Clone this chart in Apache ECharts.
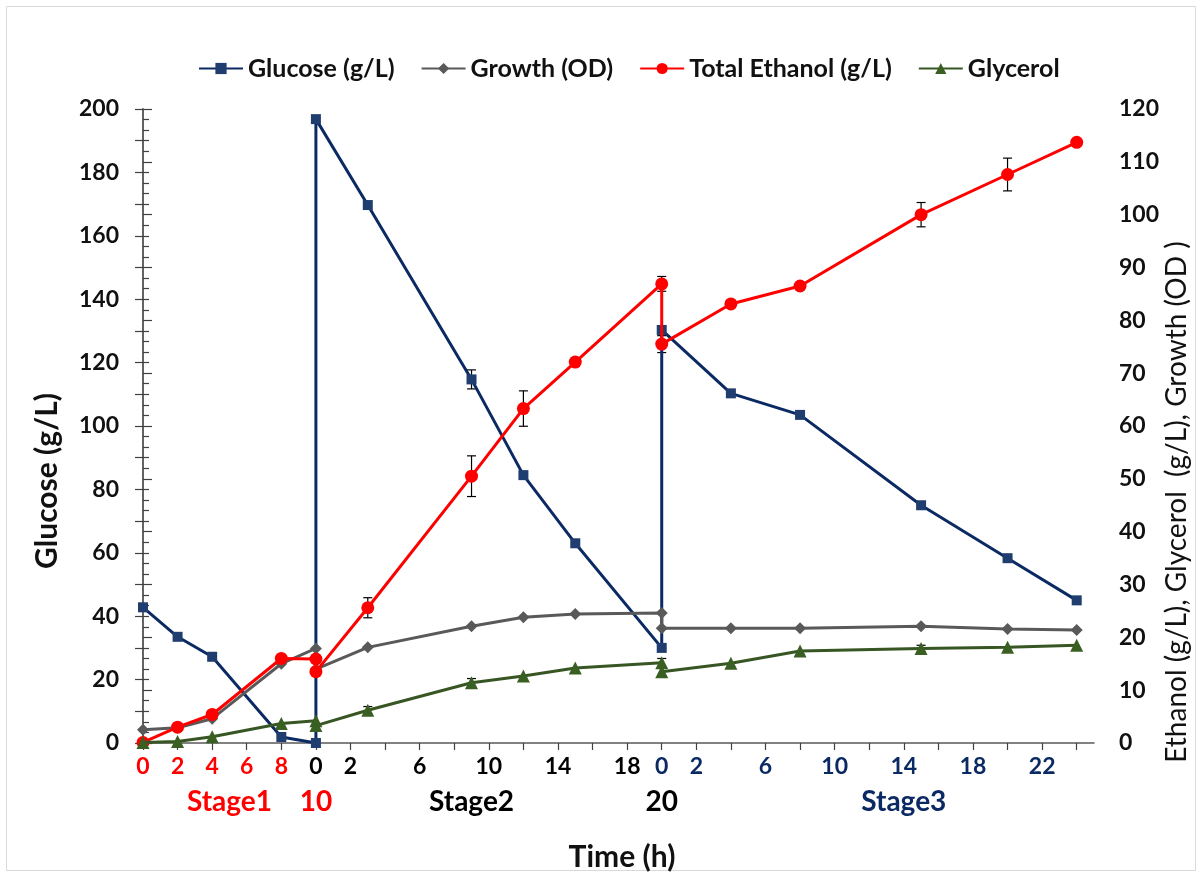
<!DOCTYPE html>
<html><head><meta charset="utf-8">
<script src="https://cdn.jsdelivr.net/npm/echarts@6/dist/echarts.min.js"></script>
<style>html,body{margin:0;padding:0;background:#fff}#c{width:1202px;height:877px}</style>
</head><body><div id="c"></div>
<script>
// Global time axis: Stage1 = 0..10, Stage2 = 10..30, Stage3 = 30..54
const timeH      = [0, 2, 4, 8, 10, 10, 13, 19, 22, 25, 30, 30, 34, 38, 45, 50, 54];
const glucose    = [42.8, 33.5, 27.2, 1.9, 0, 196.8, 169.7, 114.7, 84.5, 63, 30, 130.3, 110.3, 103.5, 75, 58.3, 45];
const growth     = [2.5, 2.9, 4.6, 15.0, 17.9, 14.0, 18.1, 22.1, 23.8, 24.4, 24.6, 21.7, 21.7, 21.7, 22.1, 21.6, 21.4];
const ethanol    = [0.1, 3.0, 5.4, 16.0, 15.9, 13.5, 25.6, 50.5, 63.3, 72.1, 86.9, 75.5, 83.1, 86.5, 100.0, 107.6, 113.7];
const glycerol   = [0.1, 0.3, 1.2, 3.7, 4.2, 3.3, 6.2, 11.4, 12.7, 14.2, 15.2, 13.5, 15.1, 17.4, 17.9, 18.1, 18.5];
const glucoseErr = [1.2, 0, 0, 0, 0, 0, 0, 3.0, 0, 0, 0, 0, 0, 0, 0, 0, 0];
const ethanolErr = [0, 0, 0, 0, 0, 0, 1.9, 3.85, 3.35, 0.8, 1.4, 1.6, 0.5, 0.6, 2.3, 3.1, 0];
const glycerolErr= [0, 0, 0, 0, 0, 0, 0.7, 0.8, 0, 0, 0.8, 0.8, 0, 0, 0.6, 0, 0];

const xTickVals   = [0,2,4,6,8,10,12,14,16,18,20,22,24,26,28,30,32,34,36,38,40,42,44,46,48,50,52,54];
const xLabelVals  = [0,2,4,6,8,10,12,16,20,24,28,30,32,36,40,44,48,52];
const xLabelTexts = ['0','2','4','6','8','0','2','6','10','14','18','0','2','6','10','14','18','22'];
const xLabelStage = [1,1,1,1,1,2,2,2,2,2,2,3,3,3,3,3,3,3];
const stageVals   = [5, 10, 19, 30, 44];
const stageTexts  = ['Stage1', '10', 'Stage2', '20', 'Stage3'];
const stageColor  = [1, 1, 2, 2, 3];

const FONT = 'Lato';
const C = {1:'#FF0000', 2:'#000000', 3:'#0B2A63'};
const pairs = (xs, ys) => xs.map((x, i) => [x, ys[i]]);

function errSeries(vals, errs, yIdx) {
  const data = [];
  timeH.forEach((t, i) => { if (errs[i] > 0) data.push([t, vals[i] - errs[i], vals[i] + errs[i]]); });
  return {
    type: 'custom', yAxisIndex: yIdx, xAxisIndex: 0, z: 1, silent: true, data,
    encode: {x: 0, y: [1, 2]},
    renderItem(params, api) {
      const x = api.value(0);
      const lo = api.coord([x, api.value(1)]);
      const hi = api.coord([x, api.value(2)]);
      const w = 4.5;
      const st = {stroke: '#000', lineWidth: 1.2};
      return {type: 'group', children: [
        {type: 'line', shape: {x1: lo[0], y1: lo[1], x2: hi[0], y2: hi[1]}, style: st},
        {type: 'line', shape: {x1: lo[0]-w, y1: lo[1], x2: lo[0]+w, y2: lo[1]}, style: st},
        {type: 'line', shape: {x1: hi[0]-w, y1: hi[1], x2: hi[0]+w, y2: hi[1]}, style: st}
      ]};
    }
  };
}

const mkRich = size => ({
  s1: {color: C[1], fontFamily: FONT, fontWeight: 'bold', fontSize: size},
  s2: {color: C[2], fontFamily: FONT, fontWeight: 'bold', fontSize: size},
  s3: {color: C[3], fontFamily: FONT, fontWeight: 'bold', fontSize: size}
});

const chart = echarts.init(document.getElementById('c'));
chart.setOption({
  animation: false,
  backgroundColor: '#fff',
  grid: {left: 143, right: 108, top: 109, bottom: 134, containLabel: false},
  legend: {
    top: 51, left: 193, itemGap: 26, itemWidth: 44, itemHeight: 14,
    textStyle: {fontFamily: FONT, fontWeight: 'bold', fontSize: 25, color: '#111'},
    data: ['Glucose (g/L)', 'Growth (OD)', 'Total Ethanol (g/L)', 'Glycerol']
  },
  xAxis: [{
    type: 'value', min: 0, max: 55, position: 'bottom',
    axisLine: {show: true, onZero: false, lineStyle: {color: '#595959', width: 1.5}},
    splitLine: {show: false},
    axisTick: {show: true, customValues: xTickVals, length: 7, lineStyle: {color: '#404040', width: 1.2}},
    axisLabel: {
      customValues: xLabelVals, margin: 12,
      formatter: v => { const i = xLabelVals.indexOf(v); return i < 0 ? '' : '{s' + xLabelStage[i] + '|' + xLabelTexts[i] + '}'; },
      rich: mkRich(23)
    }
  }, {
    type: 'value', min: 0, max: 55, position: 'bottom', offset: 33,
    axisLine: {show: false}, axisTick: {show: false}, splitLine: {show: false},
    axisLabel: {
      customValues: stageVals, margin: 12,
      formatter: v => { const i = stageVals.indexOf(v); return i < 0 ? '' : '{s' + stageColor[i] + '|' + stageTexts[i] + '}'; },
      rich: mkRich(28)
    }
  }],
  yAxis: [{
    type: 'value', min: 0, max: 200, interval: 10, position: 'left',
    axisLine: {show: true, lineStyle: {color: '#595959', width: 1.5}},
    axisTick: {show: true, length: 8, lineStyle: {color: '#404040', width: 1.2}},
    splitLine: {show: false},
    axisLabel: {formatter: v => (v % 20 === 0 ? String(v) : ''), margin: 24, fontFamily: FONT, fontWeight: 'bold', fontSize: 23, color: '#111'}
  }, {
    type: 'value', min: 0, max: 120, interval: 10, position: 'right',
    axisLine: {show: true, lineStyle: {color: '#595959', width: 1.5}},
    axisTick: {show: true, length: 9, lineStyle: {color: '#404040', width: 1.2}},
    minorTick: {show: true, splitNumber: 5, length: 6, lineStyle: {color: '#404040', width: 1.2}},
    splitLine: {show: false}, minorSplitLine: {show: false},
    axisLabel: {margin: 25, fontFamily: FONT, fontWeight: 'bold', fontSize: 23, color: '#111'}
  }],
  graphic: [
    {type: 'rect', shape: {x: 6.5, y: 6.5, width: 1189, height: 864}, style: {fill: 'none', stroke: '#D9D9D9', lineWidth: 1}, silent: true, z: -1},
    {type: 'text', x: 622, y: 857, style: {text: 'Time (h)', fontFamily: FONT, fontWeight: 'bold', fontSize: 30, fill: '#111', textAlign: 'center', textVerticalAlign: 'middle'}},
    {type: 'text', x: 47, y: 481, rotation: Math.PI / 2, style: {text: 'Glucose (g/L)', fontFamily: FONT, fontWeight: 'bold', fontSize: 30, fill: '#111', textAlign: 'center', textVerticalAlign: 'middle'}},
    {type: 'text', x: 1177, y: 502, rotation: Math.PI / 2, style: {text: 'Ethanol (g/L), Glycerol  (g/L), Growth (OD )', fontFamily: FONT, fontSize: 28, fill: '#111', textAlign: 'center', textVerticalAlign: 'middle'}}
  ],
  series: [
    errSeries(glucose, glucoseErr, 0),
    errSeries(ethanol, ethanolErr, 1),
    errSeries(glycerol, glycerolErr, 1),
    {name: 'Glucose (g/L)', type: 'line', yAxisIndex: 0, data: pairs(timeH, glucose), symbol: 'rect', symbolSize: 10, showAllSymbol: true,
      lineStyle: {color: '#0B2A63', width: 3}, itemStyle: {color: '#1F3D6E'}, z: 2},
    {name: 'Growth (OD)', type: 'line', yAxisIndex: 1, data: pairs(timeH, growth), symbol: 'diamond', symbolSize: 12, showAllSymbol: true,
      lineStyle: {color: '#595959', width: 3}, itemStyle: {color: '#595959'}, z: 3},
    {name: 'Total Ethanol (g/L)', type: 'line', yAxisIndex: 1, data: pairs(timeH, ethanol), symbol: 'circle', symbolSize: 13, showAllSymbol: true,
      lineStyle: {color: '#FF0000', width: 3}, itemStyle: {color: '#FF0000'}, z: 4},
    {name: 'Glycerol', type: 'line', yAxisIndex: 1, data: pairs(timeH, glycerol), symbol: 'triangle', symbolSize: 13, showAllSymbol: true,
      lineStyle: {color: '#375623', width: 3}, itemStyle: {color: '#3A5F22'}, z: 5}
  ]
});
</script></body></html>
